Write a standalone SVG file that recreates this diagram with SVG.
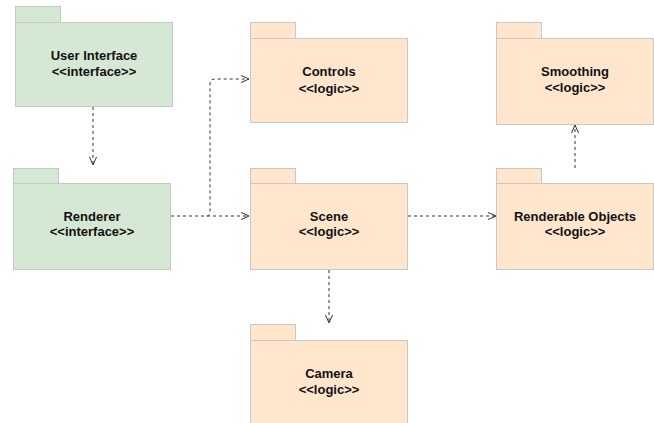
<svg xmlns="http://www.w3.org/2000/svg" width="654" height="423" viewBox="0 0 654 423">
<style>
.g{fill:#d5e8d4}
.o{fill:#ffe6cc}
.b{stroke:#c8c8c8;stroke-width:1}
.t{font-family:"Liberation Sans",Arial,sans-serif;font-size:13px;font-weight:bold;fill:#111;text-anchor:middle}
.e{fill:none;stroke:#333;stroke-width:1;stroke-dasharray:3 3}
</style>
<defs>
<marker id="a" viewBox="0 0 10 10" refX="9" refY="5" markerWidth="10" markerHeight="10" markerUnits="userSpaceOnUse" orient="auto">
<path d="M1,1.5 L9,5 L1,8.5" fill="none" stroke="#333" stroke-width="1"/>
</marker>
</defs>
<rect width="654" height="423" fill="#fff"/>
<g id="connectors">
<path class="e" d="M93,107 L93,165" marker-end="url(#a)"/>
<path class="e" d="M171,216 L249,216" marker-end="url(#a)"/>
<path class="e" d="M207,216 Q210,216 210,211 L210,84 Q210,79 215,79 L249,79" marker-end="url(#a)"/>
<path class="e" d="M408,216 L496,216" marker-end="url(#a)"/>
<path class="e" d="M575,168 L575,125" marker-end="url(#a)"/>
<path class="e" d="M329,270 L329,323" marker-end="url(#a)"/>
</g>
<g id="user-interface">
<rect class="g b" x="15.5" y="6.5" width="45" height="16"/>
<rect class="g b" x="15.5" y="22.5" width="157" height="84"/>
<text class="t" x="94" y="59.5">User Interface</text>
<text class="t" x="94" y="76">&lt;&lt;interface&gt;&gt;</text>
</g>
<g id="renderer">
<rect class="g b" x="13.5" y="168.5" width="45" height="15"/>
<rect class="g b" x="13.5" y="183.5" width="157" height="86"/>
<text class="t" x="92" y="221">Renderer</text>
<text class="t" x="92" y="236">&lt;&lt;interface&gt;&gt;</text>
</g>
<g id="controls">
<rect class="o b" x="250.5" y="22.5" width="45" height="16"/>
<rect class="o b" x="250.5" y="38.5" width="157" height="84"/>
<text class="t" x="329" y="76">Controls</text>
<text class="t" x="329" y="92.5">&lt;&lt;logic&gt;&gt;</text>
</g>
<g id="scene">
<rect class="o b" x="250.5" y="168.5" width="45" height="15"/>
<rect class="o b" x="250.5" y="183.5" width="157" height="86"/>
<text class="t" x="329" y="221">Scene</text>
<text class="t" x="329" y="236">&lt;&lt;logic&gt;&gt;</text>
</g>
<g id="camera">
<rect class="o b" x="250.5" y="324.5" width="45" height="16"/>
<rect class="o b" x="250.5" y="340.5" width="157" height="84"/>
<text class="t" x="329" y="378">Camera</text>
<text class="t" x="329" y="393.5">&lt;&lt;logic&gt;&gt;</text>
</g>
<g id="smoothing">
<rect class="o b" x="496.5" y="22.5" width="45" height="16"/>
<rect class="o b" x="496.5" y="38.5" width="157" height="86"/>
<text class="t" x="575" y="76">Smoothing</text>
<text class="t" x="575" y="92">&lt;&lt;logic&gt;&gt;</text>
</g>
<g id="renderable-objects">
<rect class="o b" x="496.5" y="168.5" width="45" height="15"/>
<rect class="o b" x="496.5" y="183.5" width="157" height="86"/>
<text class="t" x="575" y="221">Renderable Objects</text>
<text class="t" x="575" y="236">&lt;&lt;logic&gt;&gt;</text>
</g>
</svg>
